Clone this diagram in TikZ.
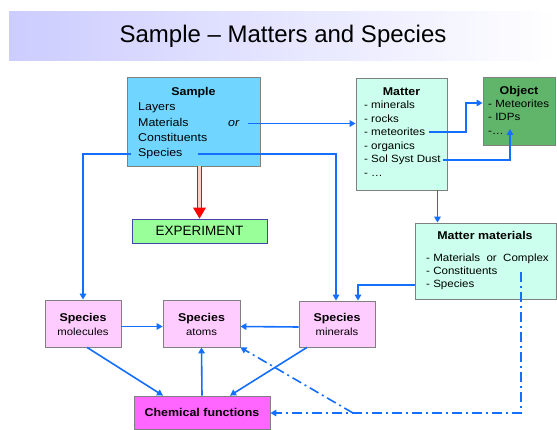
\documentclass[tikz,border=0pt]{standalone}
\usepackage{fontspec}
\usetikzlibrary{arrows.meta}
\newfontfamily\titlefont{Liberation Sans}
\newfontfamily\boxfont[FakeStretch=1.1]{Liberation Sans}
\definecolor{linkblue}{RGB}{20,110,255}
\definecolor{boxgray}{RGB}{128,128,128}
\definecolor{titleblue}{RGB}{204,204,255}
\definecolor{samplefill}{RGB}{112,214,255}
\definecolor{matterfill}{RGB}{204,255,238}
\definecolor{objectfill}{RGB}{96,181,106}
\definecolor{speciesfill}{RGB}{255,204,255}
\definecolor{chemfill}{RGB}{255,102,255}
\definecolor{exptfill}{RGB}{153,255,153}
\definecolor{exptline}{RGB}{68,68,170}

\begin{document}
\begin{tikzpicture}[x=1pt,y=-1pt,
  box/.style={draw=boxgray, line width=0.8pt, inner sep=0pt},
  hd/.style={font=\boxfont\bfseries\fontsize{11.3}{13}\selectfont, inner sep=0pt, anchor=base},
  itm/.style={font=\boxfont\fontsize{10.5}{12}\selectfont, inner sep=0pt, anchor=base west},
  sitm/.style={itm, font=\boxfont\fontsize{11.3}{13}\selectfont},
  sub/.style={font=\boxfont\fontsize{10.3}{12}\selectfont, inner sep=0pt, anchor=base},
  link/.style={draw=linkblue, line width=1.6pt, -{Triangle[length=6pt,width=6.5pt]}},
  dlink/.style={link, dash pattern=on 10pt off 4pt on 2pt off 4pt}]
\useasboundingbox (0,0) rectangle (557,430);
% title band
\node[left color=titleblue, right color=white, minimum width=548pt, minimum height=49pt,
  inner sep=0pt, font=\titlefont\fontsize{24}{28}\selectfont] (title) at (283,36.5) {Sample – Matters and Species};
% boxes
\node[box, fill=samplefill, minimum width=133pt, minimum height=89pt] (sample) at (193.5,121.5) {};
\node[box, fill=matterfill, minimum width=91pt, minimum height=112pt] (matter) at (401.5,134) {};
\node[box, fill=objectfill, minimum width=72pt, minimum height=68pt] (object) at (519,111) {};
\node[box, fill=matterfill, minimum width=141pt, minimum height=76pt] (mmat) at (485.5,261) {};
\node[box, draw=exptline, fill=exptfill, minimum width=135pt, minimum height=24pt,
  font=\titlefont\fontsize{13.5}{15}\selectfont] (expt) at (199.5,231) {EXPERIMENT};
\node[box, fill=speciesfill, minimum width=76pt, minimum height=47pt] (molec) at (83,323.5) {};
\node[box, fill=speciesfill, minimum width=77pt, minimum height=47pt] (atoms) at (201.5,323.5) {};
\node[box, fill=speciesfill, minimum width=76pt, minimum height=46pt] (miner) at (337,324) {};
\node[box, fill=chemfill, minimum width=136pt, minimum height=33pt] (chem) at (202,412.5) {};
% sample text
\node[hd] (shd) at (193.5,96) {Sample};
\node[sitm] (slay) at (138,111) {Layers};
\node[sitm] (smat) at (138,126.5) {Materials};
\node[sitm, font=\boxfont\itshape\fontsize{11.3}{13}\selectfont] (sor) at (228,126.5) {or};
\node[sitm] (scon) at (138,141.5) {Constituents};
\node[sitm] (sspec) at (138,157) {Species};
% matter text
\node[hd] (mhd) at (401.5,96) {Matter};
\node[itm] (mmin) at (364,109) {- minerals};
\node[itm] (mrock) at (364,122.5) {- rocks};
\node[itm] (mmet) at (364,136) {- meteorites};
\node[itm] (morg) at (364,149.5) {- organics};
\node[itm] (mdust) at (364,163) {- Sol Syst Dust};
\node[itm] (mdots) at (364,176.5) {- \dots};
% object text
\node[hd] (ohd) at (519,95) {Object};
\node[itm] (omet) at (488,107.5) {- Meteorites};
\node[itm] (oidp) at (488,121) {- IDPs};
\node[itm] (odots) at (488,134.5) {-\dots};
% matter materials text
\node[hd] (mmhd) at (485,240) {Matter materials};
\node[itm] (mmmat) at (426,262) {- Materials~~or~~Complex};
\node[itm] (mmcon) at (426,275) {- Constituents};
\node[itm] (mmspec) at (426,288) {- Species};
% species and chemical text
\node[hd] (molhd) at (83,321.5) {Species};
\node[sub] (molsub) at (83,335.5) {molecules};
\node[hd] (athd) at (201.5,321.5) {Species};
\node[sub] (atsub) at (201.5,335.5) {atoms};
\node[hd] (minhd) at (337,321.5) {Species};
\node[sub] (minsub) at (337,335.5) {minerals};
\node[hd] (chhd) at (202,416) {Chemical functions};
% bend points
\coordinate (metbend) at (466,103);
\coordinate (dustend) at (510,129);
\coordinate (ddtop) at (521,272);
\coordinate (ddturn) at (521,413);
\coordinate (ddfork) at (353,413);
% connectors
\draw[red, line width=1pt, double=red!20, double distance=2.4pt] (expt.north |- sample.south) -- ([yshift=10pt]expt.north);
\fill[red] (expt.north) -- ++(-6.5pt,11pt) -- ++(13pt,0pt) -- cycle;
\draw[link] ([xshift=-7pt]sspec.west) -| (molec.north);
\draw[link] ([xshift=15pt]sspec.east) -| ([xshift=-1pt]miner.north);
\draw[link] ([xshift=9pt]sor.east) -- (sor.east -| matter.west);
\draw[link] ([xshift=4pt]mmet.east) -| (metbend) -- (metbend -| object.west);
\draw[link] ([xshift=2pt]mdust.east) -| (dustend);
\draw[link] ([xshift=36pt]matter.south) -- ([xshift=36pt]matter.south |- mmat.north);
\draw[link] ([yshift=-24pt]mmat.west) -| ([xshift=21pt]miner.north);
\draw[link] ([yshift=-3pt]molec.east) -- ([yshift=-3pt]atoms.west);
\draw[link] ([yshift=-3pt]miner.west) -- ([yshift=-3pt]atoms.east);
\draw[link] ([xshift=4pt]molec.south) -- ([xshift=-39pt]chem.north);
\draw[link] (chem.north) -- (atoms.south);
\draw[link] ([xshift=-30pt]miner.south) -- ([xshift=28pt]chem.north);
\draw[dlink] (ddtop) -- (ddturn) -- (ddturn -| chem.east);
\draw[dlink] (ddfork) -- (atoms.south east);
\end{tikzpicture}
\end{document}
